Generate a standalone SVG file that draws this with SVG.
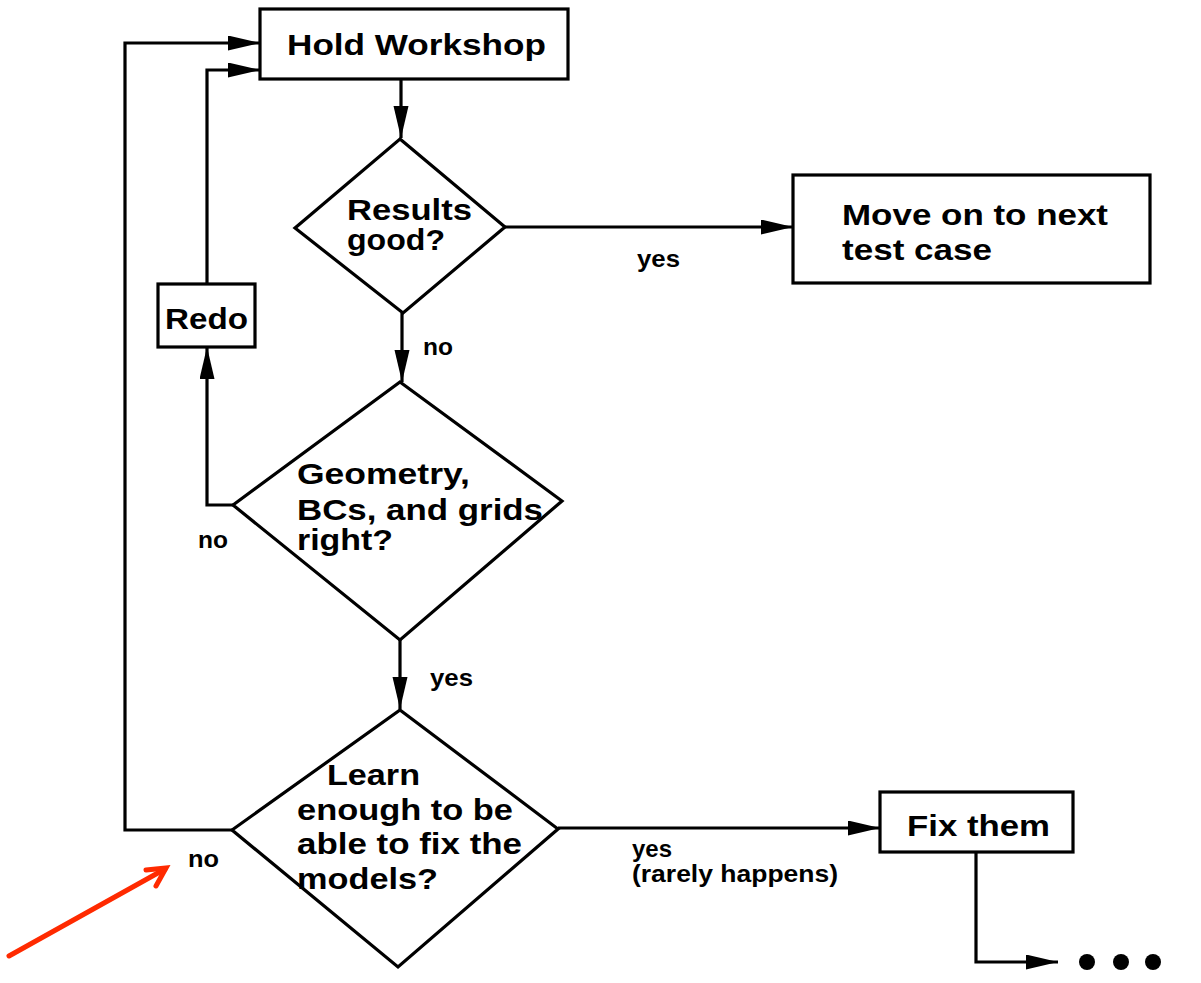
<svg xmlns="http://www.w3.org/2000/svg" width="1201" height="983" viewBox="0 0 1201 983">
<style>
.shape{fill:#fff;stroke:#000;stroke-width:3.2;stroke-linejoin:miter}
.t{font-family:"Liberation Sans",Arial,sans-serif;font-weight:bold;font-size:30px;fill:#000}
.lbl{font-family:"Liberation Sans",Arial,sans-serif;font-weight:bold;font-size:24px;fill:#000}
.c{fill:none;stroke:#000;stroke-width:3.2}
</style>
<defs>
<marker id="ah" markerUnits="userSpaceOnUse" markerWidth="34" markerHeight="16" refX="32" refY="7.5" orient="auto">
<path d="M0,0 L32,7.5 L0,15 z" fill="#000"/>
</marker>
</defs>
<rect width="1201" height="983" fill="#fff"/>
<g id="connectors">
<path class="c" d="M401,79 V138" marker-end="url(#ah)"/>
<path class="c" d="M505,227 H793" marker-end="url(#ah)"/>
<path class="c" d="M402,313 V382" marker-end="url(#ah)"/>
<path class="c" d="M233,505 H207 V347" marker-end="url(#ah)"/>
<path class="c" d="M207,284 V70 H260" marker-end="url(#ah)"/>
<path class="c" d="M400,640 V709" marker-end="url(#ah)"/>
<path class="c" d="M232,830 H125 V43 H260" marker-end="url(#ah)"/>
<path class="c" d="M558,828 H880" marker-end="url(#ah)"/>
<path class="c" d="M976,852 V962 H1058" marker-end="url(#ah)"/>
</g>
<g id="labels">
<text class="lbl" x="637" y="267" textLength="43" lengthAdjust="spacingAndGlyphs">yes</text>
<text class="lbl" x="423" y="355" textLength="30" lengthAdjust="spacingAndGlyphs">no</text>
<text class="lbl" x="198" y="548" textLength="30" lengthAdjust="spacingAndGlyphs">no</text>
<text class="lbl" x="430" y="686" textLength="43" lengthAdjust="spacingAndGlyphs">yes</text>
<text class="lbl" x="188" y="867" textLength="31" lengthAdjust="spacingAndGlyphs">no</text>
<text class="lbl" x="632" y="857" textLength="40" lengthAdjust="spacingAndGlyphs">yes</text>
<text class="lbl" x="632" y="882" textLength="206" lengthAdjust="spacingAndGlyphs">(rarely happens)</text>
</g>
<g id="hold-workshop">
<rect class="shape" x="260" y="9" width="308" height="70"/>
<text class="t" x="287" y="55" textLength="259" lengthAdjust="spacingAndGlyphs">Hold Workshop</text>
</g>
<g id="results-good">
<polygon class="shape" points="400,139 505,227 403,313 295,228"/>
<text class="t" x="347" y="220" textLength="125" lengthAdjust="spacingAndGlyphs">Results</text>
<text class="t" x="347" y="250" textLength="98" lengthAdjust="spacingAndGlyphs">good?</text>
</g>
<g id="move-on">
<rect class="shape" x="793" y="175" width="357" height="108"/>
<text class="t" x="842" y="225" textLength="266" lengthAdjust="spacingAndGlyphs">Move on to next</text>
<text class="t" x="842" y="260" textLength="150" lengthAdjust="spacingAndGlyphs">test case</text>
</g>
<g id="redo">
<rect class="shape" x="158" y="284" width="97" height="63"/>
<text class="t" x="165" y="329" textLength="83" lengthAdjust="spacingAndGlyphs">Redo</text>
</g>
<g id="geometry-check">
<polygon class="shape" points="400,382 562,501 400,640 233,505"/>
<text class="t" x="297" y="484" textLength="173" lengthAdjust="spacingAndGlyphs">Geometry,</text>
<text class="t" x="297" y="520" textLength="246" lengthAdjust="spacingAndGlyphs">BCs, and grids</text>
<text class="t" x="297" y="550" textLength="96" lengthAdjust="spacingAndGlyphs">right?</text>
</g>
<g id="learn-enough">
<polygon class="shape" points="400,710 558,829 398,967 232,830"/>
<text class="t" x="327" y="785" textLength="93" lengthAdjust="spacingAndGlyphs">Learn</text>
<text class="t" x="297" y="820" textLength="216" lengthAdjust="spacingAndGlyphs">enough to be</text>
<text class="t" x="297" y="854" textLength="225" lengthAdjust="spacingAndGlyphs">able to fix the</text>
<text class="t" x="297" y="889" textLength="141" lengthAdjust="spacingAndGlyphs">models?</text>
</g>
<g id="fix-them">
<rect class="shape" x="880" y="792" width="193" height="60"/>
<text class="t" x="907" y="836" textLength="143" lengthAdjust="spacingAndGlyphs">Fix them</text>
</g>
<g id="ellipsis">
<circle cx="1087" cy="962" r="8" fill="#000"/>
<circle cx="1121" cy="962" r="8" fill="#000"/>
<circle cx="1153" cy="962" r="8" fill="#000"/>
</g>
<g id="red-pointer" fill="none" stroke="#ff2a00" stroke-width="5" stroke-linecap="round">
<path d="M9,956 L165,869"/>
<path d="M146,870 L166,868 L156,886"/>
</g>
</svg>
